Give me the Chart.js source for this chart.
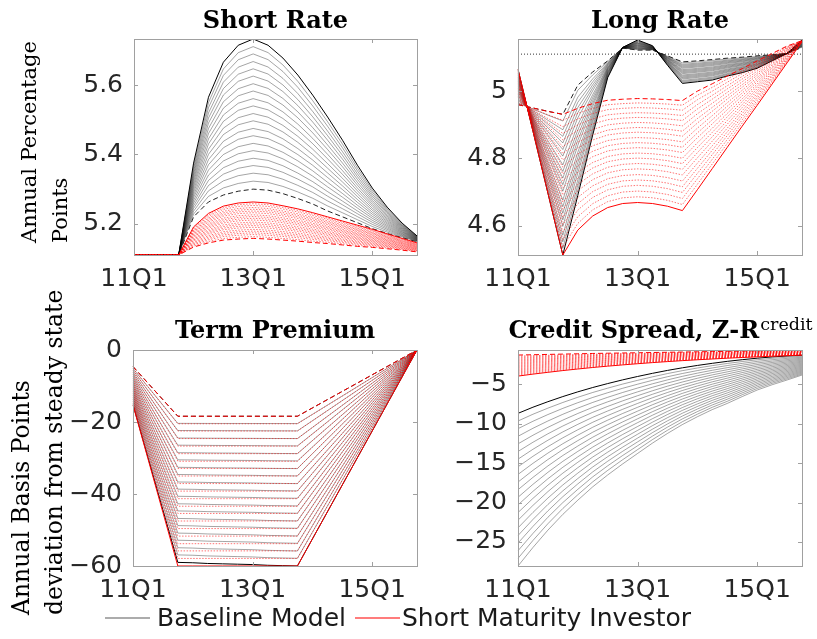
<!DOCTYPE html>
<html>
<head>
<meta charset="utf-8">
<script src="https://cdn.jsdelivr.net/npm/chart.js@4.4.1/dist/chart.umd.min.js"></script>
<style>
body { margin: 0; background: #fff; width: 817px; height: 639px; position: relative; overflow: hidden; font-family: "DejaVu Sans"; }
canvas { position: absolute; }
.ylab { position: absolute; transform-origin: 0 0; transform: rotate(-90deg); white-space: nowrap; font-family: "DejaVu Serif"; color: #000; }
.leg { position: absolute; font-size: 25px; line-height: 30px; color: #1a1a1a; white-space: nowrap; }
</style>
</head>
<body>
<canvas id="sr" width="430" height="290" style="left:0;top:0"></canvas>
<canvas id="lr" width="387" height="290" style="left:430px;top:0"></canvas>
<canvas id="tp" width="430" height="349" style="left:0;top:290px"></canvas>
<canvas id="cs" width="387" height="349" style="left:430px;top:290px"></canvas>

<div class="ylab" style="left:14px;top:243px;line-height:31px;font-size:21px">Annual Percentage<br>Points</div>
<div class="ylab" style="left:5px;top:615px;line-height:33px;font-size:23.5px">Annual Basis Points<br>deviation from steady state</div>

<div class="leg" style="left:157px;top:603px">Baseline Model</div>
<div class="leg" style="left:402px;top:603px">Short Maturity Investor</div>

<script>
// quarters on the x axis
const quarters = ['11Q1','11Q2','11Q3','11Q4','12Q1','12Q2','12Q3','12Q4','13Q1','13Q2',
                  '13Q3','13Q4','14Q1','14Q2','14Q3','14Q4','15Q1','15Q2','15Q3','15Q4'];
const xTickLabels = ['11Q1','13Q1','15Q1'];

// Short Rate (percent). first = solid line, last = dashed line, levels = every line at 13Q1
const srBaseFirst = [5.11,5.11,5.11,5.11,5.375,5.565,5.666,5.715,5.733,5.715,5.678,5.629,5.571,5.508,5.441,5.369,5.303,5.248,5.202,5.165];
const srBaseLast = [5.11,5.11,5.11,5.11,5.22,5.263,5.283,5.294,5.30,5.297,5.287,5.273,5.257,5.237,5.22,5.203,5.186,5.172,5.16,5.148];
const srBaseLevels = [5.733,5.711,5.690,5.668,5.647,5.626,5.604,5.583,5.561,5.540,5.518,5.497,5.475,5.454,5.432,5.411,5.389,5.368,5.346,5.323,5.300];
const srShortFirst = [5.11,5.11,5.11,5.11,5.191,5.23,5.251,5.26,5.263,5.26,5.252,5.243,5.232,5.22,5.208,5.196,5.184,5.171,5.158,5.145];
const srShortLast = [5.11,5.11,5.11,5.11,5.133,5.145,5.153,5.156,5.158,5.156,5.153,5.15,5.146,5.143,5.139,5.135,5.132,5.128,5.124,5.119];
const srShortLevels = [5.263,5.258,5.253,5.247,5.242,5.237,5.232,5.226,5.221,5.216,5.211,5.205,5.200,5.195,5.190,5.184,5.179,5.174,5.169,5.163,5.158];
const srTicks = [5.2, 5.4, 5.6];

// Long Rate (percent). baseline levels read at 13Q4, short maturity levels at 13Q1
const lrBaseFirst = [5.065,4.881,4.697,4.513,4.69,4.87,5.04,5.13,5.152,5.135,5.077,5.023,5.028,5.033,5.045,5.055,5.068,5.09,5.112,5.152];
const lrBaseLast = [4.96,4.95,4.94,4.931,5.018,5.057,5.09,5.128,5.122,5.122,5.105,5.087,5.09,5.094,5.098,5.101,5.105,5.108,5.112,5.13];
const lrBaseLevels = [5.023,5.026,5.029,5.032,5.036,5.039,5.042,5.045,5.048,5.052,5.055,5.058,5.061,5.064,5.068,5.071,5.074,5.077,5.080,5.084,5.087];
const lrShortFirst = [5.065,4.881,4.697,4.513,4.587,4.629,4.654,4.666,4.669,4.666,4.658,4.645,4.707,4.77,4.833,4.896,4.958,5.021,5.084,5.147];
const lrShortLast = [4.96,4.95,4.94,4.931,4.949,4.963,4.973,4.976,4.978,4.977,4.975,4.972,5.0,5.022,5.045,5.067,5.09,5.112,5.134,5.15];
const lrShortLevels = [4.669,4.686,4.703,4.720,4.736,4.752,4.769,4.785,4.801,4.816,4.832,4.847,4.862,4.878,4.892,4.907,4.922,4.936,4.951,4.965,4.978];
const lrSteady = 5.11;
const lrTicks = [4.6, 4.8, 5];

// Term Premium (basis points), levels read at 12Q2
const tpBaseFirst = [-15.2,-29.8,-44.4,-59.0,-59.1,-59.3,-59.4,-59.5,-59.6,-59.8,-59.9,-60.0,-52.5,-45,-37.5,-30,-22.5,-15,-7.5,0];
const tpBaseLast = [-4.6,-9.2,-13.8,-18.4,-18.4,-18.4,-18.4,-18.4,-18.4,-18.4,-18.4,-18.4,-16.1,-13.8,-11.5,-9.2,-6.9,-4.6,-2.3,0];
const tpBaseLevels = [-59.3,-57.2,-55.2,-53.1,-51.1,-49.0,-47.0,-44.9,-42.9,-40.8,-38.8,-36.8,-34.7,-32.7,-30.6,-28.6,-26.5,-24.5,-22.4,-20.4,-18.4];
const tpShortFirst = [-15.3,-30.2,-45.1,-60,-60,-60,-60,-60,-60,-60,-60,-60,-52.5,-45,-37.5,-30,-22.5,-15,-7.5,0];
const tpShortLast = [-4.6,-9.2,-13.8,-18.4,-18.4,-18.4,-18.4,-18.4,-18.4,-18.4,-18.4,-18.4,-16.1,-13.8,-11.5,-9.2,-6.9,-4.6,-2.3,0];
const tpShortLevels = [-60,-57.9,-55.8,-53.8,-51.7,-49.6,-47.5,-45.4,-43.4,-41.3,-39.2,-37.1,-35.0,-32.9,-30.9,-28.8,-26.7,-24.6,-22.5,-20.5,-18.4];
const tpTicks = [-60, -40, -20, 0];

// Credit Spread (basis points), levels read at 11Q1
const csBaseFirst = [-8.68,-7.9,-7.2,-6.55,-5.95,-5.4,-4.9,-4.43,-4.0,-3.6,-3.23,-2.9,-2.6,-2.33,-2.08,-1.87,-1.68,-1.52,-1.4,-1.3];
const csBaseLast = [-28.05,-25.7,-23.5,-21.5,-19.7,-18.0,-16.5,-15.1,-13.77,-12.45,-11.23,-10.1,-9.11,-8.2,-7.42,-6.55,-5.72,-5.05,-4.45,-3.82];
const csBaseLevels = [-8.68,-9.65,-10.62,-11.59,-12.55,-13.52,-14.49,-15.46,-16.43,-17.40,-18.37,-19.33,-20.30,-21.27,-22.24,-23.21,-24.18,-25.14,-26.11,-27.08,-28.05];
const csShortFirst = [-3.95,-3.7,-3.47,-3.25,-3.05,-2.86,-2.69,-2.53,-2.38,-2.24,-2.11,-1.99,-1.88,-1.78,-1.68,-1.59,-1.51,-1.43,-1.36,-1.29];
const csShortLast = [-1.28,-1.24,-1.2,-1.16,-1.12,-1.08,-1.05,-1.02,-0.99,-0.96,-0.93,-0.9,-0.87,-0.84,-0.81,-0.78,-0.75,-0.72,-0.69,-0.66];
const csShortLevels = [-3.95,-3.82,-3.68,-3.55,-3.42,-3.28,-3.15,-3.02,-2.88,-2.75,-2.62,-2.48,-2.35,-2.22,-2.08,-1.95,-1.82,-1.68,-1.55,-1.41,-1.28];
const csTicks = [-25, -20, -15, -10, -5];

// line styles (lower order = drawn on top)
const grayLine = { color: 'rgba(0,0,0,0.45)', width: 0.8, dash: [], order: 5 };
const baseStyle = {
    first: { color: '#000', width: 1, dash: [], order: 3 },
    last: { color: '#222', width: 1, dash: [5, 3], order: 4 },
    mid: grayLine
};
const baseStyleCs = { first: baseStyle.first, last: grayLine, mid: grayLine };
const shortStyle = {
    first: { color: '#ff0000', width: 1, dash: [], order: 0 },
    last: { color: '#ff0000', width: 1, dash: [5, 3], order: 1 },
    mid: { color: 'rgba(255,0,0,0.55)', width: 1, dash: [1.5, 1.5], order: 2 }
};

// one dataset per line of a fan, each line placed by its level at the key quarter
function fan(first, last, levels, key, style) {
    const span = first[key] - last[key];
    return levels.map((lv, i) => {
        const w = (lv - last[key]) / span;
        const s = i === 0 ? style.first : (i === levels.length - 1 ? style.last : style.mid);
        return {
            data: first.map((f, k) => last[k] + w * (f - last[k])),
            borderColor: s.color, borderWidth: s.width, borderDash: s.dash,
            order: s.order, pointRadius: 0, fill: false
        };
    });
}

// box round the axes and inward tick marks, like matlab
const framePlugin = {
    id: 'frame',
    afterDraw(chart) {
        const { ctx, chartArea: a, scales: { x, y } } = chart;
        ctx.save();
        ctx.strokeStyle = '#a0a0a0';
        ctx.lineWidth = 1;
        ctx.strokeRect(Math.round(a.left) + 0.5, Math.round(a.top) + 0.5,
                       Math.round(a.right - a.left), Math.round(a.bottom - a.top));
        ctx.beginPath();
        xTickLabels.forEach(q => {
            const px = Math.round(x.getPixelForValue(quarters.indexOf(q))) + 0.5;
            ctx.moveTo(px, a.bottom); ctx.lineTo(px, a.bottom - 4);
            ctx.moveTo(px, a.top); ctx.lineTo(px, a.top + 4);
        });
        y.ticks.forEach(t => {
            const py = Math.round(y.getPixelForValue(t.value)) + 0.5;
            ctx.moveTo(a.left, py); ctx.lineTo(a.left + 4, py);
            ctx.moveTo(a.right, py); ctx.lineTo(a.right - 4, py);
        });
        ctx.stroke();
        ctx.restore();
    }
};

// panel titles, with an optional superscript
const titlePlugin = {
    id: 'panelTitle',
    afterDraw(chart, args, opts) {
        const { ctx, chartArea: a } = chart;
        ctx.save();
        ctx.fillStyle = '#000';
        ctx.textBaseline = 'alphabetic';
        ctx.textAlign = 'left';
        const mainFont = 'bold 24px "DejaVu Serif"';
        const supFont = '17.5px "DejaVu Serif"';
        ctx.font = mainFont;
        const wMain = ctx.measureText(opts.text).width;
        ctx.font = supFont;
        const wSup = opts.sup ? ctx.measureText(opts.sup).width : 0;
        const x0 = (a.left + a.right) / 2 - (wMain + wSup) / 2;
        ctx.font = mainFont;
        ctx.fillText(opts.text, x0, opts.y);
        if (opts.sup) {
            ctx.font = supFont;
            ctx.fillText(opts.sup, x0 + wMain + 1, opts.y - 8);
        }
        ctx.restore();
    }
};

// legend line samples under the lower left panel (text is html next to them)
const legendSamplePlugin = {
    id: 'legendSamples',
    afterDraw(chart, args, opts) {
        if (!opts.items) return;
        const ctx = chart.ctx;
        ctx.save();
        ctx.lineWidth = 1.6;
        opts.items.forEach(it => {
            ctx.strokeStyle = it.color;
            ctx.beginPath();
            ctx.moveTo(it.x0, opts.y);
            ctx.lineTo(it.x1, opts.y);
            ctx.stroke();
        });
        ctx.restore();
    }
};

function makePanel(id, o) {
    new Chart(document.getElementById(id), {
        type: 'line',
        data: { labels: quarters, datasets: o.datasets },
        options: {
            responsive: false,
            animation: false,
            devicePixelRatio: 1,
            layout: { padding: { top: o.top, right: o.right, left: 0, bottom: 0 } },
            elements: { line: { tension: 0 }, point: { radius: 0 } },
            plugins: {
                legend: { display: false },
                tooltip: { enabled: false },
                panelTitle: { text: o.title, sup: o.sup, y: o.titleY },
                legendSamples: o.legend || {}
            },
            scales: {
                x: {
                    type: 'category',
                    grid: { display: false, drawTicks: false },
                    border: { display: false },
                    ticks: {
                        autoSkip: false, maxRotation: 0, padding: 9, color: '#262626',
                        font: { family: 'DejaVu Sans', size: 25 },
                        callback: (v, i) => xTickLabels.includes(quarters[i]) ? quarters[i] : ''
                    },
                    afterFit: s => { s.height = o.xH; }
                },
                y: {
                    min: o.min, max: o.max,
                    grid: { display: false, drawTicks: false },
                    border: { display: false },
                    afterBuildTicks: s => { s.ticks = o.yTicks.map(v => ({ value: v })); },
                    ticks: {
                        padding: 11, color: '#262626',
                        font: { family: 'DejaVu Sans', size: 25 },
                        callback: v => String(v).replace('-', '\u2212')
                    },
                    afterFit: s => { s.width = o.yW; }
                }
            }
        },
        plugins: [framePlugin, titlePlugin, legendSamplePlugin]
    });
}

makePanel('sr', {
    title: 'Short Rate', titleY: 28, top: 39, right: 13, yW: 134, xH: 35,
    min: 5.11, max: 5.733, yTicks: srTicks,
    datasets: [
        ...fan(srShortFirst, srShortLast, srShortLevels, 8, shortStyle),
        ...fan(srBaseFirst, srBaseLast, srBaseLevels, 8, baseStyle)
    ]
});

makePanel('lr', {
    title: 'Long Rate', titleY: 28, top: 39, right: 15, yW: 88, xH: 35,
    min: 4.513, max: 5.155, yTicks: lrTicks,
    datasets: [
        ...fan(lrShortFirst, lrShortLast, lrShortLevels, 8, shortStyle),
        ...fan(lrBaseFirst, lrBaseLast, lrBaseLevels, 11, baseStyle),
        { data: quarters.map(() => lrSteady), borderColor: '#000', borderWidth: 0.8,
          borderDash: [1, 2], order: 6, pointRadius: 0, fill: false }
    ]
});

makePanel('tp', {
    title: 'Term Premium', titleY: 48, top: 60, right: 13, yW: 133, xH: 73,
    min: -60, max: 0, yTicks: tpTicks,
    legend: {
        y: 328,
        items: [
            { x0: 105, x1: 150, color: '#909090' },
            { x0: 355, x1: 400, color: '#ff5050' }
        ]
    },
    datasets: [
        ...fan(tpShortFirst, tpShortLast, tpShortLevels, 5, shortStyle),
        ...fan(tpBaseFirst, tpBaseLast, tpBaseLevels, 5, baseStyle)
    ]
});

makePanel('cs', {
    title: 'Credit Spread, Z-R', sup: 'credit', titleY: 48, top: 60, right: 15, yW: 88, xH: 73,
    min: -28.05, max: -0.64, yTicks: csTicks,
    datasets: [
        ...fan(csShortFirst, csShortLast, csShortLevels, 0, shortStyle),
        ...fan(csBaseFirst, csBaseLast, csBaseLevels, 0, baseStyleCs)
    ]
});
</script>
</body>
</html>
